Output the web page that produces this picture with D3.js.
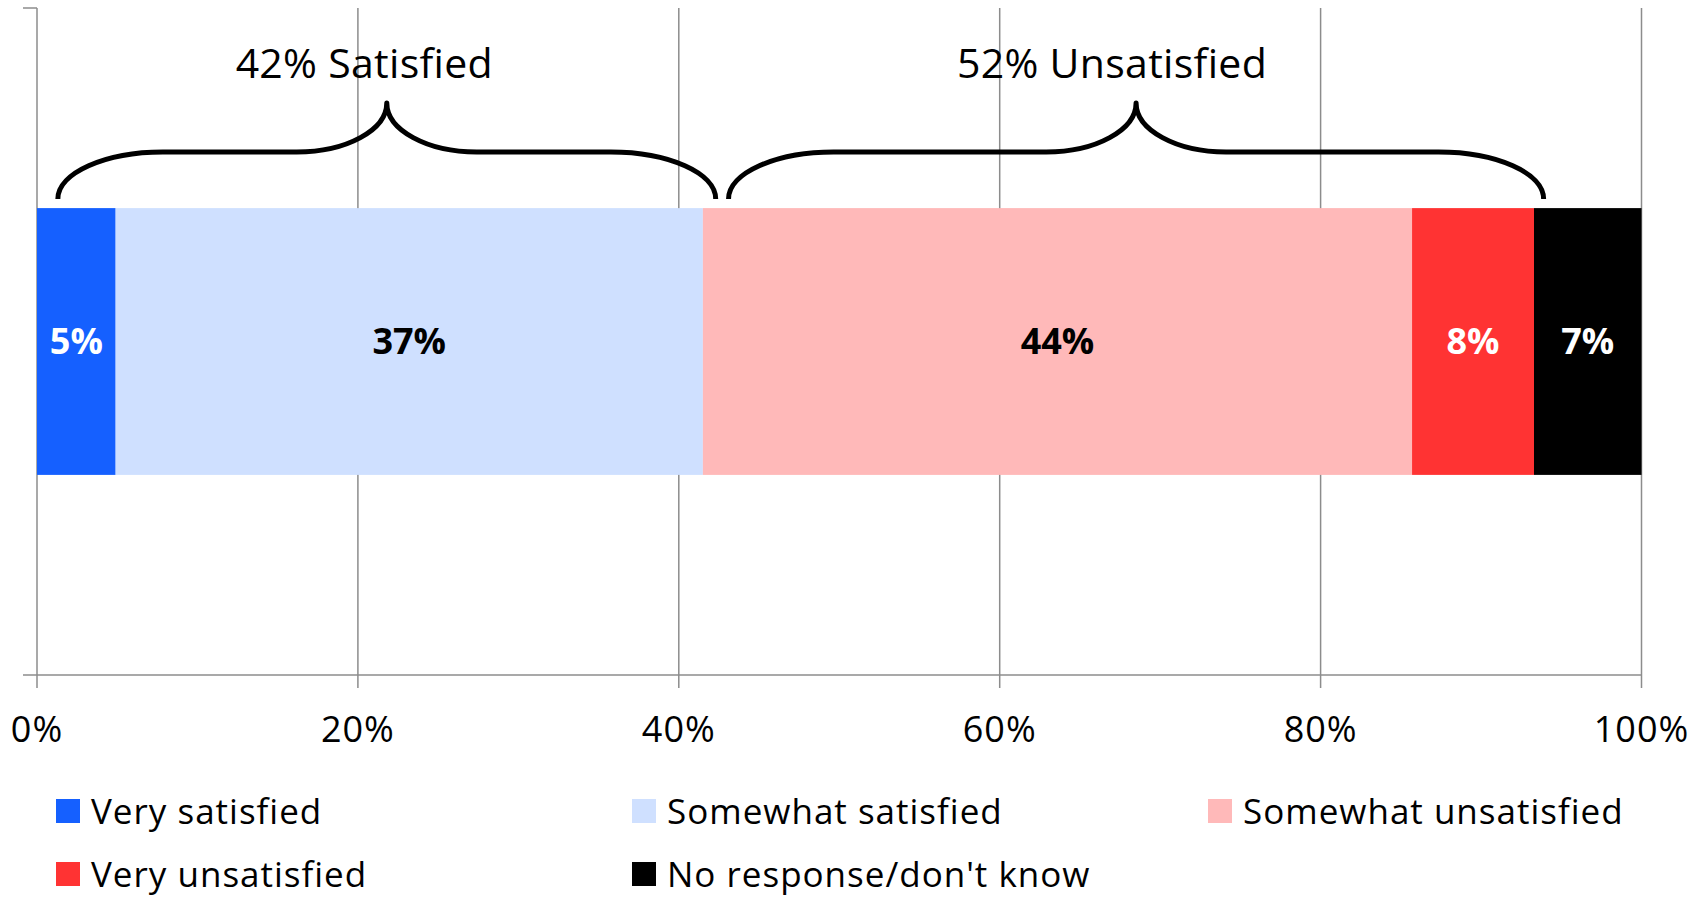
<!DOCTYPE html>
<html>
<head>
<meta charset="utf-8">
<script src="https://cdn.jsdelivr.net/npm/d3@7"></script>
<style>
  body { margin: 0; background: #fff; }
  text { font-family: "Open Sans", sans-serif; }
</style>
</head>
<body>
<svg id="chart" width="1705" height="900"></svg>
<script>
// values (percent of respondents)
let categories = ["Very satisfied", "Somewhat satisfied", "Somewhat unsatisfied", "Very unsatisfied", "No response/don't know"];
let values = [4.9, 36.6, 44.2, 7.6, 6.7];
let labels = ["5%", "37%", "44%", "8%", "7%"];
let colors = ["#1560ff", "#cfe0ff", "#ffb9b9", "#ff3333", "#000000"];
let labelColors = ["#fff", "#000", "#000", "#fff", "#fff"];
let tickValues = [0, 20, 40, 60, 80, 100];

// brace groups: start / end / text position in percent
let groupNames = ["42% Satisfied", "52% Unsatisfied"];
let groupFrom = [1.3, 43.1];
let groupTo = [42.3, 93.9];
let groupText = [20.4, 67.0];

let svg = d3.select("#chart");

let x = d3.scaleLinear().domain([0, 100]).range([37, 1641.5]);
let y = d3.scaleBand().domain(["row"]).range([8, 675]).paddingInner(0).paddingOuter(0.75);

let gridColor = "#8c8c8c";

// vertical grid lines + tick marks
svg.append("g")
    .selectAll("line")
    .data(tickValues)
    .join("line")
    .attr("x1", d => x(d))
    .attr("x2", d => x(d))
    .attr("y1", 8)
    .attr("y2", 688)
    .attr("stroke", gridColor)
    .attr("stroke-width", 1.5);

// x axis baseline and y axis ticks
svg.append("line")
    .attr("x1", 23).attr("x2", x(100))
    .attr("y1", 675).attr("y2", 675)
    .attr("stroke", gridColor).attr("stroke-width", 1.5);
svg.append("line")
    .attr("x1", 23).attr("x2", x(0))
    .attr("y1", 8).attr("y2", 8)
    .attr("stroke", gridColor).attr("stroke-width", 1.5);

// tick labels
svg.append("g")
    .selectAll("text")
    .data(tickValues)
    .join("text")
    .attr("x", d => x(d))
    .attr("y", 742)
    .attr("text-anchor", "middle")
    .attr("font-size", 36)
    .attr("letter-spacing", 1)
    .attr("fill", "#000")
    .text(d => d + "%");

// stacked segments
let starts = [];
let acc = 0;
values.forEach(v => { starts.push(acc); acc += v; });

let bars = svg.append("g");
bars.selectAll("rect")
    .data(values)
    .join("rect")
    .attr("x", (d, i) => x(starts[i]))
    .attr("width", (d, i) => x(starts[i] + d) - x(starts[i]))
    .attr("y", y("row"))
    .attr("height", y.bandwidth())
    .attr("fill", (d, i) => colors[i]);

bars.selectAll("text")
    .data(values)
    .join("text")
    .attr("x", (d, i) => x(starts[i] + d / 2))
    .attr("y", y("row") + y.bandwidth() / 2)
    .attr("dy", "0.35em")
    .attr("text-anchor", "middle")
    .attr("font-size", 36)
    .attr("font-weight", "bold")
    .attr("fill", (d, i) => labelColors[i])
    .text((d, i) => labels[i]);

// curly braces above the bar
let yBottom = 199, yMid = 152, yTip = 103;
function bracePath(x0, x1) {
    let xm = (x0 + x1) / 2;
    let r1 = 105, r2 = 90, k = 0.552;
    let p = d3.path();
    p.moveTo(x0, yBottom);
    p.bezierCurveTo(x0, yBottom - k * (yBottom - yMid), x0 + r1 * (1 - k), yMid, x0 + r1, yMid);
    p.lineTo(xm - r2, yMid);
    p.bezierCurveTo(xm - r2 + k * r2, yMid, xm, yTip + k * (yMid - yTip), xm, yTip);
    p.bezierCurveTo(xm, yTip + k * (yMid - yTip), xm + r2 - k * r2, yMid, xm + r2, yMid);
    p.lineTo(x1 - r1, yMid);
    p.bezierCurveTo(x1 - r1 * (1 - k), yMid, x1, yBottom - k * (yBottom - yMid), x1, yBottom);
    return p.toString();
}

let braces = svg.append("g");
braces.selectAll("path")
    .data(groupNames)
    .join("path")
    .attr("d", (d, i) => bracePath(x(groupFrom[i]), x(groupTo[i])))
    .attr("fill", "none")
    .attr("stroke", "#000")
    .attr("stroke-width", 5)
    .attr("stroke-linejoin", "round");

braces.selectAll("text")
    .data(groupNames)
    .join("text")
    .attr("x", (d, i) => x(groupText[i]))
    .attr("y", 78)
    .attr("text-anchor", "middle")
    .attr("font-size", 41)
    .attr("letter-spacing", 0.3)
    .attr("fill", "#000")
    .text(d => d);

// legend, 3 columns
let legendX = [56, 632, 1208];
let legendY = [799, 862];
let legend = svg.append("g")
    .selectAll("g")
    .data(categories)
    .join("g")
    .attr("transform", (d, i) => `translate(${legendX[i % 3]},${legendY[Math.floor(i / 3)]})`);

legend.append("rect")
    .attr("width", 24)
    .attr("height", 24)
    .attr("fill", (d, i) => colors[i]);

legend.append("text")
    .attr("x", 35)
    .attr("y", 25)
    .attr("font-size", 35)
    .attr("letter-spacing", 1)
    .attr("fill", "#000")
    .text(d => d);
</script>
</body>
</html>
